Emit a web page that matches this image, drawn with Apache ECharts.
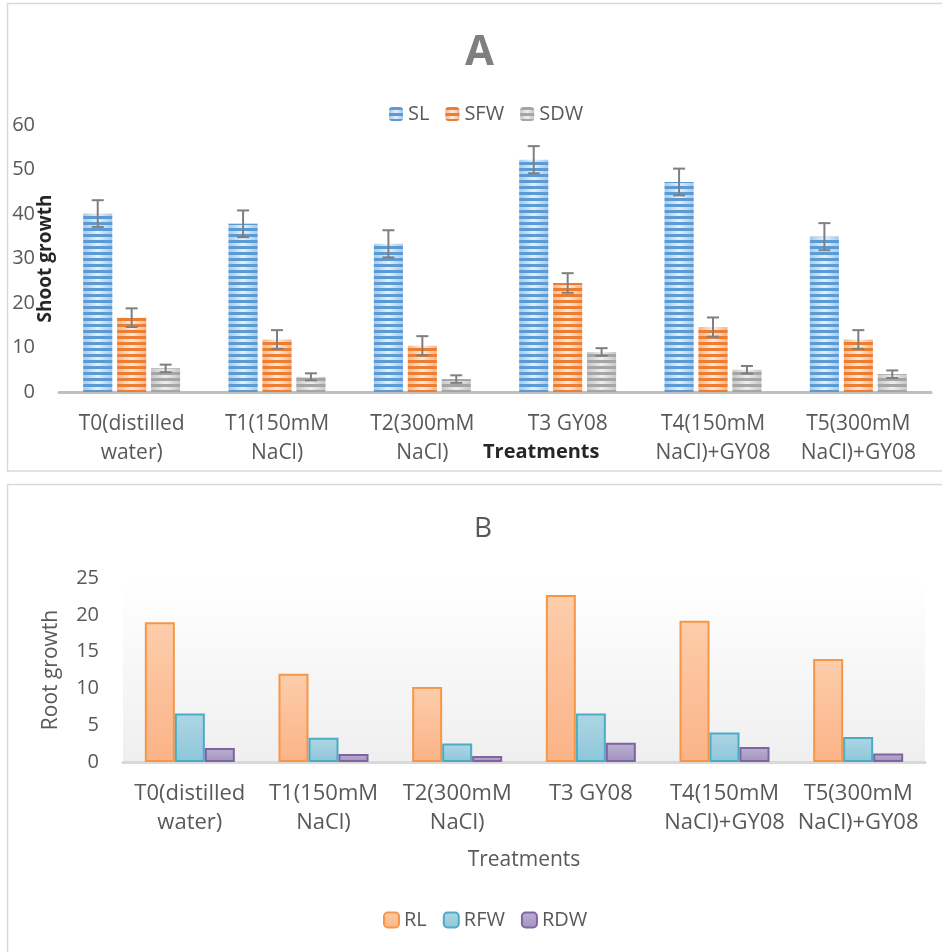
<!DOCTYPE html>
<html><head><meta charset="utf-8">
<script src="https://cdn.jsdelivr.net/npm/echarts@6/dist/echarts.min.js"></script>
<style>html,body{margin:0;padding:0;background:#fff}#c{width:942px;height:952px}</style>
</head><body><div id="c"></div>
<script>
// ---- data ----
const categories = ['T0(distilled\nwater)', 'T1(150mM\nNaCl)', 'T2(300mM\nNaCl)', 'T3 GY08', 'T4(150mM\nNaCl)+GY08', 'T5(300mM\nNaCl)+GY08'];
const shootNames = ['SL', 'SFW', 'SDW'];
const SL = [40.1, 37.8, 33.3, 52.2, 47.2, 34.9];
const SFW = [16.7, 11.8, 10.4, 24.5, 14.6, 11.8];
const SDW = [5.3, 3.4, 2.9, 9.0, 5.0, 4.0];
const SL_err = [3.0, 3.0, 3.05, 3.05, 3.0, 3.05];
const SFW_err = [2.1, 2.1, 2.15, 2.2, 2.15, 2.1];
const SDW_err = [0.85, 0.8, 0.85, 0.85, 0.85, 0.85];
const rootNames = ['RL', 'RFW', 'RDW'];
const RL = [19.0, 12.0, 10.2, 22.7, 19.2, 14.0];
const RFW = [6.6, 3.3, 2.5, 6.6, 4.0, 3.4];
const RDW = [1.9, 1.1, 0.8, 2.6, 2.05, 1.15];
const shootTicks = {min: 0, max: 60, interval: 10};
const rootTicks = {min: 0, max: 25, interval: 5};

// ---- styles ----
const FONT = 'Open Sans';
const TXT = '#595959';
const G = echarts.graphic;
const hGrad = (edge, mid) => new G.LinearGradient(0, 0, 1, 0, [
  {offset: 0, color: edge}, {offset: 0.5, color: mid}, {offset: 1, color: edge}]);
const vGrad = (top, bot) => new G.LinearGradient(0, 0, 0, 1, [
  {offset: 0, color: top}, {offset: 1, color: bot}]);
const stripe = c => ({symbol: 'rect', symbolSize: 1, dashArrayX: [1, 0], dashArrayY: [3, 3], rotation: 0, color: c});

const shootStyles = [
  {color: hGrad('#a7c8ea', '#e6f0fa'), decal: stripe('#5b9bd5')},
  {color: hGrad('#f5b48a', '#fdebde'), decal: stripe('#ed7d31')},
  {color: hGrad('#c6c6c6', '#efefef'), decal: stripe('#a5a5a5')}
];
const rootStyles = [
  {color: vGrad('#fdcdab', '#fbb387'), borderColor: '#f79646', borderWidth: 2},
  {color: vGrad('#afd6e4', '#8dc6da'), borderColor: '#4bacc6', borderWidth: 2},
  {color: vGrad('#bbb0d1', '#a193bf'), borderColor: '#8064a2', borderWidth: 2}
];

const BW_TOP = 29, GAP_TOP = 0.17;
const shootVals = [SL, SFW, SDW];
const shootErrs = [SL_err, SFW_err, SDW_err];

function errRender(k) {
  const offset = (k - 1) * BW_TOP * (1 + GAP_TOP);
  return function (params, api) {
    const i = api.value(0), v = api.value(1), e = api.value(2);
    const t = api.coord([i, v + e]);
    const b = api.coord([i, v - e]);
    const x = t[0] + offset;
    const st = {stroke: '#7f7f7f', lineWidth: 2};
    return {type: 'group', children: [
      {type: 'line', shape: {x1: x, y1: t[1], x2: x, y2: b[1]}, style: st},
      {type: 'line', shape: {x1: x - 6, y1: t[1], x2: x + 6, y2: t[1]}, style: st},
      {type: 'line', shape: {x1: x - 6, y1: b[1], x2: x + 6, y2: b[1]}, style: st}
    ]};
  };
}

const series = [];
shootNames.forEach((n, k) => {
  series.push({name: n, type: 'bar', xAxisIndex: 0, yAxisIndex: 0, data: shootVals[k],
    barWidth: BW_TOP, barGap: (GAP_TOP * 100) + '%', itemStyle: shootStyles[k]});
});
shootNames.forEach((n, k) => {
  series.push({name: n + ' error', type: 'custom', xAxisIndex: 0, yAxisIndex: 0, z: 5,
    renderItem: errRender(k), encode: {x: 0, y: 1},
    data: shootVals[k].map((v, i) => [i, v, shootErrs[k][i]])});
});
const rootVals = [RL, RFW, RDW];
rootNames.forEach((n, k) => {
  series.push({name: n, type: 'bar', xAxisIndex: 1, yAxisIndex: 1, data: rootVals[k],
    barWidth: 30, barGap: '0%', itemStyle: rootStyles[k]});
});

const chart = echarts.init(document.getElementById('c'));
chart.setOption({
  animation: false,
  textStyle: {fontFamily: FONT},
  title: [
    {text: 'A', left: 460, top: 27, textStyle: {fontFamily: FONT, fontSize: 42, fontWeight: 'bold', color: '#7f7f7f'}},
    {text: 'B', left: 469, top: 510, textStyle: {fontFamily: FONT, fontSize: 28, fontWeight: 'normal', color: TXT}}
  ],
  legend: [
    {data: shootNames, left: 384, top: 99, itemWidth: 14, itemHeight: 14, itemGap: 16,
      textStyle: {fontFamily: FONT, fontSize: 20, color: TXT}},
    {data: rootNames, left: 378, top: 905, itemWidth: 15, itemHeight: 15, itemGap: 16,
      textStyle: {fontFamily: FONT, fontSize: 20, color: TXT}}
  ],
  grid: [
    {left: 59, right: 11, top: 125, height: 267, containLabel: false},
    {left: 123, right: 17, top: 578, height: 184, show: true, borderWidth: 0,
      backgroundColor: vGrad('#ffffff', '#efefef')}
  ],
  xAxis: [
    {type: 'category', gridIndex: 0, data: categories,
      axisLine: {lineStyle: {color: '#bfbfbf', width: 3}}, axisTick: {show: false},
      axisLabel: {interval: 0, color: TXT, fontSize: 21, lineHeight: 29, margin: 18, fontFamily: FONT}},
    {type: 'category', gridIndex: 1, data: categories,
      name: 'Treatments', nameLocation: 'middle', nameGap: 88, nameMoveOverlap: false,
      nameTextStyle: {color: TXT, fontSize: 21, fontFamily: FONT},
      axisLine: {lineStyle: {color: '#d9d9d9', width: 3}}, axisTick: {show: false},
      axisLabel: {interval: 0, color: TXT, fontSize: 22, lineHeight: 29, margin: 17, fontFamily: FONT}}
  ],
  yAxis: [
    {type: 'value', gridIndex: 0, min: shootTicks.min, max: shootTicks.max, interval: shootTicks.interval,
      name: 'Shoot growth', nameLocation: 'middle', nameGap: 4, nameMoveOverlap: false,
      nameTextStyle: {color: '#262626', fontSize: 19, fontWeight: 'bold', fontFamily: FONT},
      axisLine: {show: false}, axisTick: {show: false}, splitLine: {show: false},
      axisLabel: {color: TXT, fontSize: 20, margin: 24, fontFamily: FONT}},
    {type: 'value', gridIndex: 1, min: rootTicks.min, max: rootTicks.max, interval: rootTicks.interval,
      name: 'Root growth', nameLocation: 'middle', nameGap: 61, nameMoveOverlap: false,
      nameTextStyle: {color: TXT, fontSize: 21, fontFamily: FONT},
      axisLine: {show: false}, axisTick: {show: false}, splitLine: {show: false},
      axisLabel: {color: TXT, fontSize: 20, margin: 24, fontFamily: FONT}}
  ],
  graphic: [
    {type: 'rect', shape: {x: 7.5, y: 3.5, width: 945, height: 467.5}, style: {fill: 'none', stroke: '#d9d9d9', lineWidth: 1.5}, z: -1},
    {type: 'rect', shape: {x: 7.5, y: 484.5, width: 945, height: 480}, style: {fill: 'none', stroke: '#d9d9d9', lineWidth: 1.5}, z: -1},
    {type: 'text', left: 483, top: 442, style: {text: 'Treatments', fontFamily: FONT, fontSize: 20, fontWeight: 'bold', fill: '#262626'}}
  ],
  series: series
});
</script></body></html>
